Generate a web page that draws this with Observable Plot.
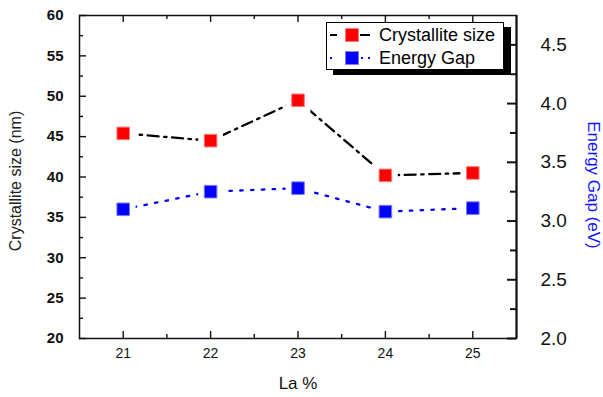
<!DOCTYPE html>
<html><head><meta charset="utf-8">
<script src="https://cdn.jsdelivr.net/npm/d3@7"></script>
<script src="https://cdn.jsdelivr.net/npm/@observablehq/plot@0.6"></script>
<style>
body{margin:0;background:#fff;font-family:"Liberation Sans",Arial,sans-serif}
#wrap{position:relative;width:603px;height:397px}
#legend{position:absolute;left:326px;top:22px;width:176px;height:46px;border:1px solid #000;background:#fff;box-shadow:7px 5px 0 #000;font-size:18px;color:#000}
#legend .row{position:absolute;left:0;height:20px;display:flex;align-items:center}
#legend svg{display:block}
#legend span{position:absolute;left:52px;white-space:nowrap;line-height:20px}
</style></head><body><div id="wrap"></div>
<script>
// ---- data ----
const laPercent = [21, 22, 23, 24, 25];
const crystalliteSize = [45.4, 44.5, 49.5, 40.2, 40.5];
const energyGap = [3.10, 3.25, 3.28, 3.08, 3.11];
const xTicks = [21, 22, 23, 24, 25];
const xMinorTicks = [21.5, 22.5, 23.5, 24.5];
const leftTicks = [20, 25, 30, 35, 40, 45, 50, 55, 60];
const leftMinorTicks = [22.5, 27.5, 32.5, 37.5, 42.5, 47.5, 52.5, 57.5];
const rightTicks = [2.0, 2.5, 3.0, 3.5, 4.0, 4.5];
const rightMinorTicks = [2.25, 2.75, 3.25, 3.75, 4.25];
const leftDomain = [20, 60];
const rightDomain = [2, 4.75];

// map right-axis values onto the left scale
const toLeft = e => leftDomain[0] + (e - rightDomain[0]) * (leftDomain[1] - leftDomain[0]) / (rightDomain[1] - rightDomain[0]);
const fromLeft = v => rightDomain[0] + (v - leftDomain[0]) * (rightDomain[1] - rightDomain[0]) / (leftDomain[1] - leftDomain[0]);

const rows = laPercent.map((x, i) => ({x, size: crystalliteSize[i], gap: energyGap[i], gapL: toLeft(energyGap[i])}));

const W = 603, H = 397, mL = 79, mR = 87, mT = 15, mB = 59;
const pw = W - mL - mR, ph = H - mT - mB;
const ink = "#111";

const chart = Plot.plot({
  width: W, height: H,
  marginLeft: mL, marginRight: mR, marginTop: mT, marginBottom: mB,
  style: {fontFamily: '"Liberation Sans", Arial, sans-serif', color: ink, background: "#fff"},
  x: {domain: [20.5, 25.5]},
  y: {domain: leftDomain},
  marks: [
    // inward ticks
    Plot.ruleX(xTicks, {insetTop: ph - 7, stroke: ink, strokeWidth: 1.4}),
    Plot.ruleX(xMinorTicks, {insetTop: ph - 4, stroke: ink, strokeWidth: 1.4}),
    Plot.ruleX(xTicks, {insetBottom: ph - 7, stroke: ink, strokeWidth: 1.4}),
    Plot.ruleX(xMinorTicks, {insetBottom: ph - 4, stroke: ink, strokeWidth: 1.4}),
    Plot.ruleY(leftTicks, {insetRight: pw - 7, stroke: ink, strokeWidth: 1.4}),
    Plot.ruleY(leftMinorTicks, {insetRight: pw - 4, stroke: ink, strokeWidth: 1.4}),
    Plot.ruleY(rightTicks.map(toLeft), {insetLeft: pw - 9, stroke: ink, strokeWidth: 2}),
    Plot.ruleY(rightMinorTicks.map(toLeft), {insetLeft: pw - 6, stroke: ink, strokeWidth: 2}),
    Plot.frame({stroke: ink, strokeWidth: 1.5}),
    Plot.ruleX([25.5], {stroke: ink, strokeWidth: 2}),
    // axes labels
    Plot.axisX(xTicks, {tickSize: 0, tickPadding: 10, fontSize: 14, label: null, tickFormat: d => String(d)}),
    Plot.axisY(leftTicks, {anchor: "left", tickSize: 0, tickPadding: 16, fontSize: 15, fontWeight: "bold", label: null, tickFormat: d => String(d)}),
    Plot.axisY(rightTicks.map(toLeft), {anchor: "right", tickSize: 0, tickPadding: 24, fontSize: 19, label: null, tickFormat: d => fromLeft(d).toFixed(1)}),
    Plot.text(["La %"], {frameAnchor: "bottom", textAnchor: "middle", lineAnchor: "middle", dy: 45, fontSize: 17, fill: ink}),
    Plot.text(["Crystallite size (nm)"], {frameAnchor: "left", textAnchor: "middle", lineAnchor: "middle", rotate: -90, dx: -64, dy: 4, fontSize: 16, fill: "#222"}),
    Plot.text(["Energy Gap (eV)"], {frameAnchor: "right", textAnchor: "middle", lineAnchor: "middle", rotate: 90, dx: 77, dy: 8, fontSize: 17, fill: "#1515ff"}),
    // data lines
    Plot.line(rows, {x: "x", y: "size", stroke: "#000", strokeWidth: 2.3, strokeDasharray: "11,5.5,2.5,5.5"}),
    Plot.line(rows, {x: "x", y: "gapL", stroke: "#0000ff", strokeWidth: 2.3, strokeDasharray: "2.5,8.3"}),
    // halos to leave a gap between line and markers
    Plot.dot(rows, {x: "x", y: "size", symbol: "square", r: 14, fill: "#fff"}),
    Plot.dot(rows, {x: "x", y: "gapL", symbol: "square", r: 14, fill: "#fff"}),
    // markers
    Plot.dot(rows, {x: "x", y: "size", symbol: "square", r: 7.1, fill: "#ff0000", stroke: "#ff7a7a", strokeWidth: 1}),
    Plot.dot(rows, {x: "x", y: "gapL", symbol: "square", r: 7.1, fill: "#0000ff", stroke: "#7a7aff", strokeWidth: 1})
  ]
});

const wrap = document.getElementById("wrap");
wrap.appendChild(chart);

const legend = document.createElement("div");
legend.id = "legend";
legend.innerHTML = `
<div class="row" style="top:2px">
  <svg width="46" height="20"><line x1="3" x2="10" y1="10" y2="10" stroke="#000" stroke-width="2"/><line x1="33" x2="43" y1="10" y2="10" stroke="#000" stroke-width="2"/><rect x="18.5" y="3.5" width="13" height="13" fill="#ff0000" stroke="#ff7a7a"/></svg>
  <span>Crystallite size</span>
</div>
<div class="row" style="top:25px">
  <svg width="46" height="20"><line x1="3" x2="10" y1="10" y2="10" stroke="#0000ff" stroke-width="2" stroke-dasharray="2,5"/><line x1="34" x2="44" y1="10" y2="10" stroke="#0000ff" stroke-width="2" stroke-dasharray="2,5"/><rect x="18.5" y="3.5" width="13" height="13" fill="#0000ff" stroke="#7a7aff"/></svg>
  <span>Energy Gap</span>
</div>`;
wrap.appendChild(legend);
</script>
</body></html>
